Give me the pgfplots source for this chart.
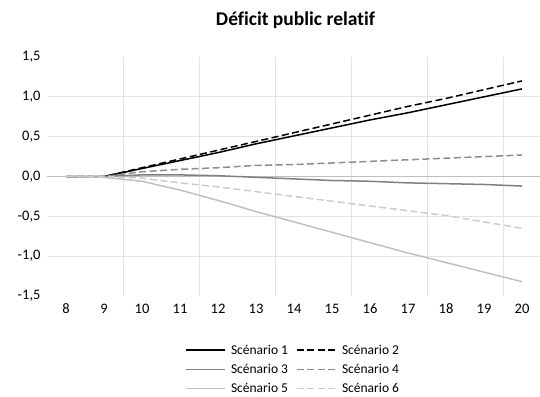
\documentclass[border=0pt]{standalone}
\usepackage{fontspec}
\setmainfont[Ligatures=NoCommon]{Carlito}
\usepackage{pgfplots}
\pgfplotsset{compat=1.18}
\definecolor{gridc}{HTML}{E3E3E3}
\definecolor{zeroc}{HTML}{BFBFBF}
\definecolor{sthree}{HTML}{808080}
\definecolor{sfour}{HTML}{8C8C8C}
\definecolor{sfive}{HTML}{C0C0C0}
\definecolor{ssix}{HTML}{CCCCCC}
\begin{document}
\begin{tikzpicture}[x=1bp,y=1bp]
\path[use as bounding box] (-47,-100) rectangle (493,296);
\begin{axis}[
  at={(0,0)}, anchor=south west,
  scale only axis, width=494bp, height=239bp,
  xmin=7.5, xmax=20.5, ymin=-1.5, ymax=1.5,
  axis line style={draw=none},
  major tick length=0pt,
  xtick={8,...,20},
  ytick={-1,-0.5,0,0.5,1},
  extra y ticks={-1.5,1.5},
  extra y tick style={grid=none},
  ymajorgrids,
  extra x ticks={9.5,11.5,13.5,15.5,17.5,19.5},
  extra x tick labels={},
  extra x tick style={grid=major},
  major grid style={gridc, line width=0.8bp},
  /pgf/number format/assume math mode=true,
  yticklabel style={/pgf/number format/use comma, /pgf/number format/fixed, /pgf/number format/fixed zerofill, /pgf/number format/precision=1, xshift=-3bp},
  ticklabel style={font=\fontsize{14.5bp}{16bp}\selectfont},
  xticklabel style={yshift=-4bp, text height=10bp, text depth=0pt},
  legend columns=2,
  legend style={at={(0.279,-0.195)}, anchor=north west, draw=none, fill=none,
    font=\fontsize{13.5bp}{16bp}\selectfont, inner sep=0pt,
    row sep=4.5bp,
    /tikz/every odd column/.append style={column sep=3.5bp},
    /tikz/every even column/.append style={column sep=6bp}},
  legend cell align=left,
  legend image code/.code={\draw[#1] (0bp,0bp) -- (39bp,0bp);},
  clip=false,
]
\draw[zeroc, line width=0.9bp] (axis cs:7.5,0) -- (axis cs:20.5,0);
\addplot[black, line width=1.5bp] coordinates {(8,0)(9,0)(10,0.10)(11,0.20)(12,0.30)(13,0.41)(14,0.51)(15,0.61)(16,0.71)(17,0.80)(18,0.90)(19,1.00)(20,1.10)};
\addlegendentry{Scénario 1}
\addplot[black, line width=1.5bp, dash pattern=on 7bp off 3.5bp] coordinates {(8,0)(9,0)(10,0.11)(11,0.22)(12,0.33)(13,0.44)(14,0.55)(15,0.66)(16,0.77)(17,0.88)(18,0.98)(19,1.09)(20,1.20)};
\addlegendentry{Scénario 2}
\addplot[sthree, line width=1.5bp] coordinates {(8,0)(9,0)(10,0.02)(11,0.02)(12,0.01)(13,-0.01)(14,-0.03)(15,-0.05)(16,-0.06)(17,-0.08)(18,-0.09)(19,-0.10)(20,-0.12)};
\addlegendentry{Scénario 3}
\addplot[sfour, line width=1.5bp, dash pattern=on 7bp off 3.5bp] coordinates {(8,0)(9,0)(10,0.06)(11,0.09)(12,0.11)(13,0.14)(14,0.15)(15,0.17)(16,0.19)(17,0.21)(18,0.23)(19,0.25)(20,0.27)};
\addlegendentry{Scénario 4}
\addplot[sfive, line width=1.5bp] coordinates {(8,0)(9,-0.01)(10,-0.06)(11,-0.17)(12,-0.30)(13,-0.44)(14,-0.57)(15,-0.70)(16,-0.83)(17,-0.96)(18,-1.08)(19,-1.20)(20,-1.32)};
\addlegendentry{Scénario 5}
\addplot[ssix, line width=1.5bp, dash pattern=on 7bp off 3.5bp] coordinates {(8,0)(9,0)(10,-0.02)(11,-0.08)(12,-0.13)(13,-0.19)(14,-0.25)(15,-0.31)(16,-0.37)(17,-0.43)(18,-0.49)(19,-0.57)(20,-0.65)};
\addlegendentry{Scénario 6}
\end{axis}
\node[font=\bfseries\fontsize{19.5bp}{22bp}\selectfont] at (248.5,276) {Déficit public relatif};
\end{tikzpicture}
\end{document}
